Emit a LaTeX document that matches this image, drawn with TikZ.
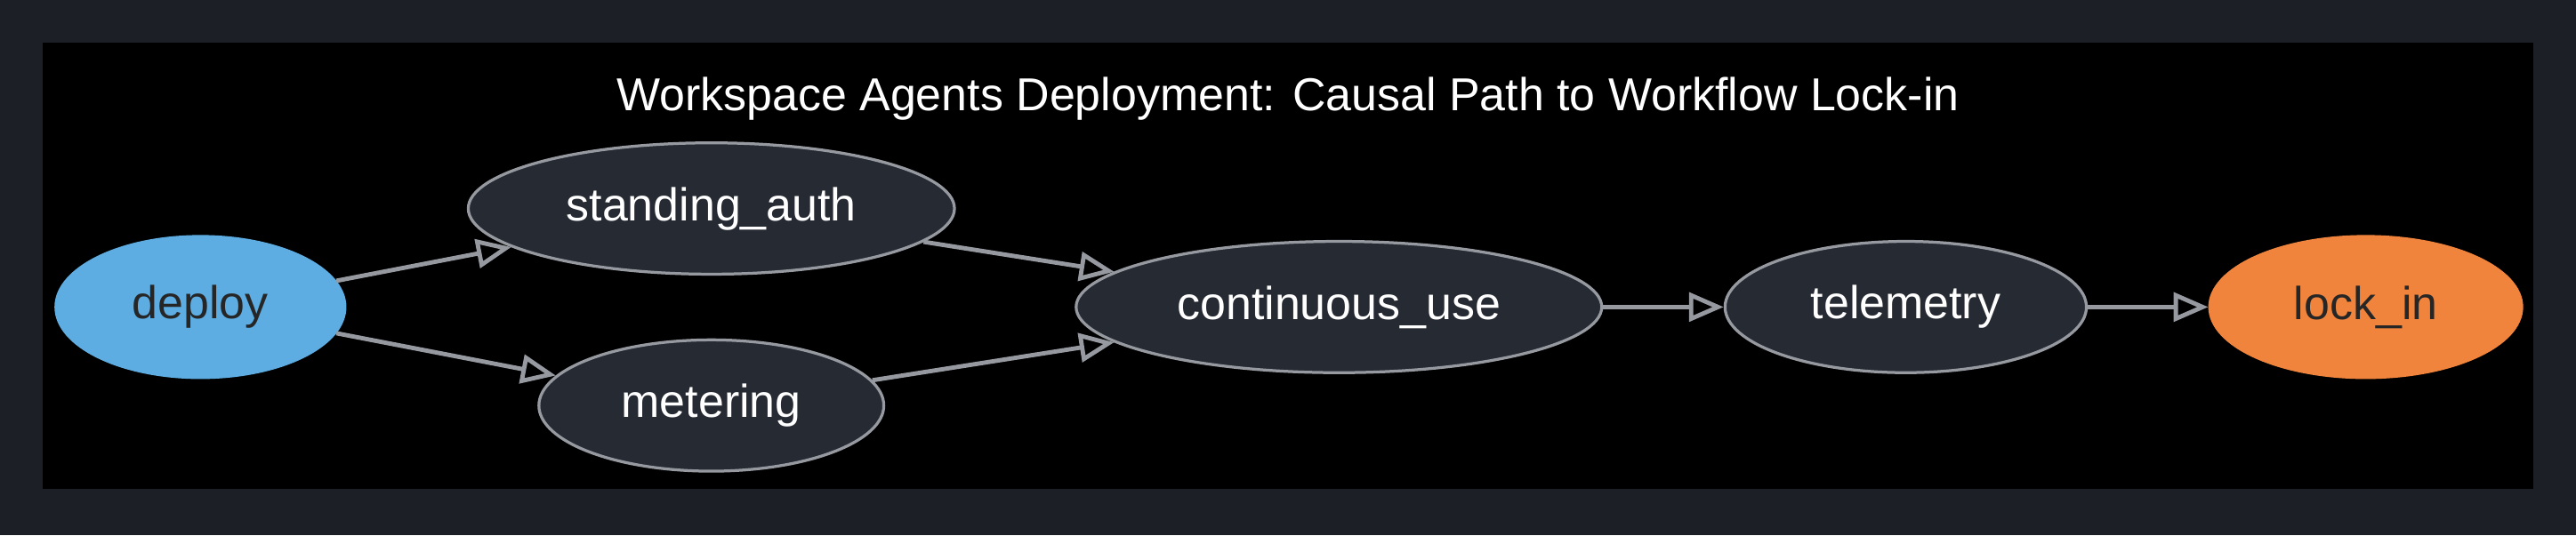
\documentclass[tikz,border=0pt]{standalone}
\usepackage{fontspec}
\setmainfont{Liberation Sans}
\usetikzlibrary{arrows.meta, shapes.geometric}
\definecolor{outerbg}{RGB}{28, 31, 38}
\definecolor{nodefill}{RGB}{38, 42, 51}
\definecolor{edgegray}{RGB}{150, 154, 160}
\definecolor{deployblue}{RGB}{93, 173, 226}
\definecolor{lockorange}{RGB}{240, 132, 60}

\begin{document}
\begin{tikzpicture}[
    x=0.02cm, y=-0.02cm,
    stage/.style={
        ellipse,
        inner sep=0pt,
        draw=edgegray,
        line width=1pt,
        fill=nodefill,
        text=white,
        font=\fontsize{16}{18}\selectfont
    },
    link/.style={
        -{Triangle[open, length=12pt, width=10pt]},
        draw=edgegray,
        line width=1.5pt
    }
]
    % Frame
    \fill[outerbg] (0, 0) rectangle (1568, 326);
    \fill[black] (26, 26) rectangle (1542, 298);
    \node[text=white, font=\fontsize{16}{18}\selectfont] (title) at (784, 60)
        {Workspace Agents Deployment: Causal Path to Workflow Lock-in};

    % Nodes
    \node[stage, fill=deployblue, draw=deployblue, text=black!85,
          minimum width=3.52cm, minimum height=1.72cm] (deploy) at (122, 187) {deploy};
    \node[stage, minimum width=5.92cm, minimum height=1.6cm] (standing) at (433, 127) {standing\_auth};
    \node[stage, minimum width=4.2cm, minimum height=1.6cm] (metering) at (433, 247) {metering};
    \node[stage, minimum width=6.4cm, minimum height=1.6cm] (continuous) at (815, 187) {continuous\_use};
    \node[stage, minimum width=4.4cm, minimum height=1.6cm] (telemetry) at (1160, 187) {telemetry};
    \node[stage, fill=lockorange, draw=lockorange, text=black!85,
          minimum width=3.8cm, minimum height=1.72cm] (lockin) at (1440, 187) {lock\_in};

    % Edges
    \draw[link] (deploy) -- (standing);
    \draw[link] (deploy) -- (metering);
    \draw[link] (standing) -- (continuous);
    \draw[link] (metering) -- (continuous);
    \draw[link] (continuous) -- (telemetry);
    \draw[link] (telemetry) -- (lockin);
\end{tikzpicture}
\end{document}
